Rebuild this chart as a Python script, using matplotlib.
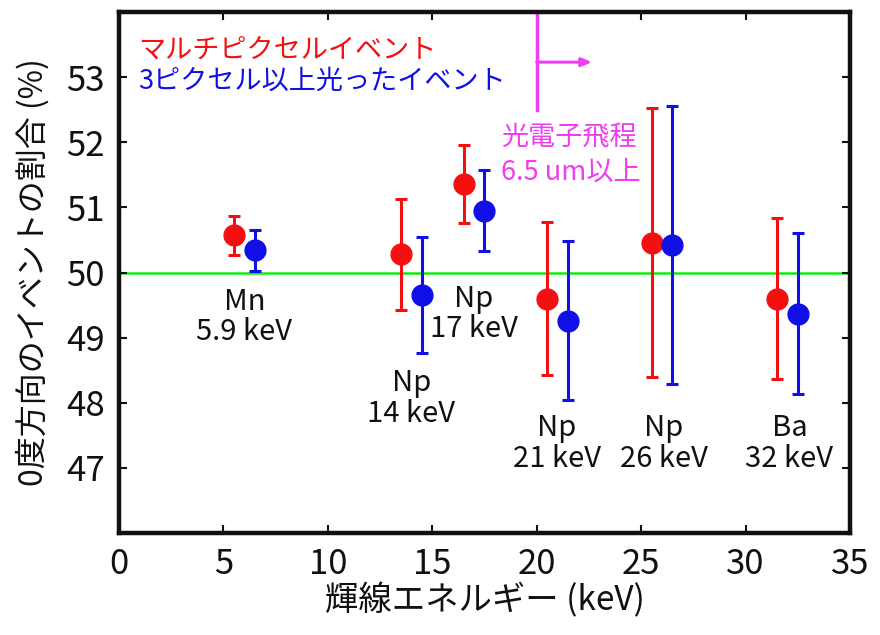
import matplotlib
matplotlib.use("Agg")
import matplotlib.pyplot as plt

plt.rcParams['font.family'] = ['Noto Sans CJK JP', 'DejaVu Sans']

# fraction of 0-degree events per X-ray line
red_x = [5.5, 13.5, 16.5, 20.5, 25.5, 31.5]
red_y = [50.57, 50.28, 51.36, 49.60, 50.46, 49.60]
red_err = [0.30, 0.85, 0.60, 1.17, 2.06, 1.23]

blue_x = [6.5, 14.5, 17.5, 21.5, 26.5, 32.5]
blue_y = [50.34, 49.66, 50.95, 49.26, 50.42, 49.37]
blue_err = [0.32, 0.89, 0.62, 1.22, 2.13, 1.24]

line_names = ["Mn", "Np", "Np", "Np", "Np", "Ba"]
line_energies = ["5.9 keV", "14 keV", "17 keV", "21 keV", "26 keV", "32 keV"]
label_x = [6.0, 14.0, 17.0, 20.95, 26.1, 32.1]
label_y = [49.55, 48.30, 49.60, 47.61, 47.61, 47.61]

reference_level = 50.0
range_cut_energy = 20.0

RED = '#F41010'
BLUE = '#1010E6'
MAGENTA = '#F23CF2'

fig = plt.figure(figsize=(8.8, 6.35), dpi=100)
ax = fig.add_axes([0.1352, 0.1606, 0.8307, 0.8205])

ax.axhline(reference_level, color='#10EE10', lw=1.8, zorder=1)

ax.errorbar(red_x, red_y, yerr=red_err, fmt='o', color=RED, ms=15,
            elinewidth=2.2, capsize=4.3, capthick=2.2, zorder=3)
ax.errorbar(blue_x, blue_y, yerr=blue_err, fmt='o', color=BLUE, ms=15,
            elinewidth=2.2, capsize=4.3, capthick=2.2, zorder=3)

# line labels under each pair
for x, y, name, energy in zip(label_x, label_y, line_names, line_energies):
    ax.text(x, y, name, ha='center', va='center', fontsize=21, color='#111111')
    ax.text(x, y - 0.47, energy, ha='center', va='center', fontsize=21,
            color='#111111')

# legend as coloured text
ax.text(0.026, 53.42, "マルチピクセルイベント", color=RED, fontsize=19.5,
        va='center', ha='left', transform=ax.get_yaxis_transform())
ax.text(0.026, 52.94, "3ピクセル以上光ったイベント", color=BLUE, fontsize=19.5,
        va='center', ha='left', transform=ax.get_yaxis_transform())

# photoelectron range marker
ax.plot([range_cut_energy, range_cut_energy], [54, 52.5], color=MAGENTA,
        lw=2.5, clip_on=False, zorder=2)
ax.annotate("", xy=(22.65, 53.23), xytext=(range_cut_energy, 53.23),
            arrowprops=dict(arrowstyle='-|>,head_length=0.6,head_width=0.25',
                            color=MAGENTA, lw=2.2, shrinkA=0, shrinkB=0))
ax.text(18.3, 52.06, "光電子飛程", color=MAGENTA, fontsize=19.5,
        va='center', ha='left')
ax.text(18.3, 51.54, "6.5 um以上", color=MAGENTA, fontsize=19.5,
        va='center', ha='left')

ax.set_xlim(0, 35)
ax.set_ylim(46, 54)
ax.set_xticks(range(0, 36, 5))
ax.set_yticks(range(47, 54))

ax.tick_params(direction='in', top=True, right=True, length=6, width=1.5,
               labelsize=25, colors='#111111')
ax.tick_params(axis='y', pad=10)
ax.tick_params(axis='x', pad=10)
for s in ax.spines.values():
    s.set_linewidth(3.2)
    s.set_color('#111111')

ax.set_xlabel("輝線エネルギー (keV)", fontsize=24, labelpad=1, color='#111111')
ax.set_ylabel("0度方向のイベントの割合 (%)", fontsize=23, labelpad=12,
              color='#111111')

fig.savefig("out.png", dpi=100)
